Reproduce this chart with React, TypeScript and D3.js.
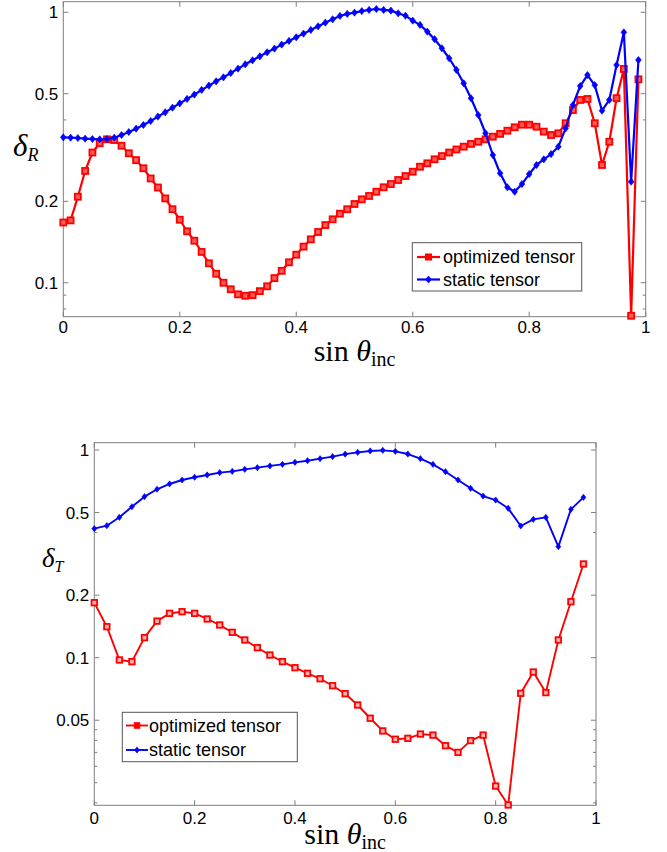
import React from 'react';
import * as d3 from 'd3';

// ---------- data ----------
const xTicks = [0, 0.2, 0.4, 0.6, 0.8, 1];
const xTickLabels = ['0', '0.2', '0.4', '0.6', '0.8', '1'];

const topYTicks = [1, 0.5, 0.2, 0.1];
const topYTickLabels = ['1', '0.5', '0.2', '0.1'];
const topYMinor = [0.4, 0.09, 0.08];

const botYTicks = [1, 0.5, 0.2, 0.1, 0.05];
const botYTickLabels = ['1', '0.5', '0.2', '0.1', '0.05'];
const botYMinor = [0.4, 0.045, 0.04, 0.035, 0.03, 0.025, 0.02];

const topStep = 0.0125;
const botStep = 0.025;

const topOptimized = [
  0.167, 0.170, 0.208, 0.259, 0.303, 0.328, 0.339, 0.337, 0.321, 0.301,
  0.284, 0.265, 0.243, 0.225, 0.205, 0.187, 0.171, 0.155, 0.143, 0.130,
  0.118, 0.108, 0.100, 0.0946, 0.0906, 0.0895, 0.090, 0.0931, 0.097, 0.104,
  0.1107, 0.119, 0.127, 0.136, 0.1447, 0.154, 0.1634, 0.1716, 0.1800, 0.187,
  0.1955, 0.2034, 0.2093, 0.217, 0.2254, 0.2317, 0.2398, 0.248, 0.2574, 0.2685,
  0.2764, 0.286, 0.294, 0.303, 0.311, 0.3185, 0.326, 0.332, 0.339, 0.3467,
  0.355, 0.3648, 0.3756, 0.384, 0.384, 0.3775, 0.362, 0.3517, 0.3568, 0.3887,
  0.435, 0.474, 0.478, 0.3887, 0.2725, 0.332, 0.481, 0.617, 0.0755, 0.565,
];

const topStatic = [
  0.3448, 0.3438, 0.3428, 0.3409, 0.3399, 0.3389, 0.3399, 0.3438, 0.3517, 0.3608,
  0.3713, 0.3830, 0.3963, 0.4113, 0.4267, 0.4440, 0.4606, 0.4780, 0.4960, 0.5161,
  0.5355, 0.5556, 0.5745, 0.5963, 0.6187, 0.6419, 0.6643, 0.6873, 0.7111, 0.7338,
  0.7592, 0.7834, 0.8081, 0.8337, 0.8602, 0.8874, 0.9155, 0.9419, 0.969, 0.986,
  0.997, 1.01, 1.02, 1.028, 1.02, 1.014, 0.991, 0.971, 0.931, 0.898,
  0.848, 0.795, 0.736, 0.676, 0.612, 0.546, 0.481, 0.417, 0.357, 0.2967,
  0.254, 0.2254, 0.217, 0.2317, 0.2523, 0.2725, 0.286, 0.299, 0.3185, 0.3724,
  0.454, 0.5336, 0.586, 0.538, 0.4326, 0.474, 0.638, 0.843, 0.2363, 0.666,
];

const botOptimized = [
  0.184, 0.141, 0.0975, 0.0957, 0.1249, 0.150, 0.1635, 0.1665, 0.1635, 0.1536,
  0.1437, 0.1325, 0.1217, 0.1117, 0.1030, 0.0957, 0.0895, 0.0841, 0.0792, 0.0733,
  0.0671, 0.0592, 0.0511, 0.0444, 0.0405, 0.0409, 0.0429, 0.0424, 0.0377, 0.0350,
  0.0399, 0.0424, 0.0241, 0.01954, 0.0674, 0.0853, 0.0679, 0.1217, 0.186, 0.2826,
];

const botStatic = [
  0.418, 0.432, 0.474, 0.533, 0.596, 0.647, 0.686, 0.717, 0.739, 0.758,
  0.778, 0.789, 0.807, 0.822, 0.838, 0.853, 0.872, 0.888, 0.908, 0.929,
  0.955, 0.974, 0.989, 0.996, 0.985, 0.956, 0.908, 0.853, 0.786, 0.717,
  0.654, 0.600, 0.574, 0.524, 0.4305, 0.4635, 0.474, 0.3424, 0.518, 0.5915,
];

const legendLabels = ['optimized tensor', 'static tensor'];
const RED = '#ff0000';
const BLUE = '#0000ff';
const AXIS = '#7f7f7f';

type Cfg = {
  x0: number; x1: number; yTop: number; yBot: number;
  yMin: number; yMax: number;
  yTicks: number[]; yTickLabels: string[]; yMinor: number[];
  red: number[]; blue: number[]; step: number;
  lineW: number; sq: number; dia: number; sqFill: string;
  legend: { x: number; y: number; w: number; h: number; row1: number; row2: number; l0: number; l1: number; tx: number };
  xLabelY: number; tickLabelY: number;
  ylab: { x: number; y: number; size: number; sub: string; subSize: number };
};

function Panel({ c }: { c: Cfg }) {
  const x = d3.scaleLinear().domain([0, 1]).range([c.x0, c.x1]);
  const y = d3.scaleLog().domain([c.yMin, c.yMax]).range([c.yBot, c.yTop]);
  const pts = (arr: number[]) => arr.map((v, i) => [x(i * c.step), y(v)] as [number, number]);
  const line = d3.line();
  const redPts = pts(c.red);
  const bluePts = pts(c.blue);
  const s = c.sq;
  const d = c.dia;
  const diamond = (px: number, py: number) => `M${px},${py - d}L${px + d * 0.8},${py}L${px},${py + d}L${px - d * 0.8},${py}Z`;
  const tk = 5;
  const mk = 3;
  const L = c.legend;
  return (
    <g>
      <rect x={c.x0} y={c.yTop} width={c.x1 - c.x0} height={c.yBot - c.yTop} fill="#fff" stroke={AXIS} strokeWidth={1} />
      {xTicks.map((t, i) => (
        <g key={'xt' + i}>
          <line x1={x(t)} x2={x(t)} y1={c.yBot} y2={c.yBot - tk} stroke={AXIS} />
          <line x1={x(t)} x2={x(t)} y1={c.yTop} y2={c.yTop + tk} stroke={AXIS} />
          <text x={x(t)} y={c.tickLabelY} textAnchor="middle" fontFamily="Liberation Sans, Arial, sans-serif" fontSize={17} fill="#000">{xTickLabels[i]}</text>
        </g>
      ))}
      {c.yTicks.map((t, i) => (
        <g key={'yt' + i}>
          <line x1={c.x0} x2={c.x0 + tk} y1={y(t)} y2={y(t)} stroke={AXIS} />
          <line x1={c.x1} x2={c.x1 - tk} y1={y(t)} y2={y(t)} stroke={AXIS} />
          <text x={c.x0 - 5} y={y(t) + 6} textAnchor="end" fontFamily="Liberation Sans, Arial, sans-serif" fontSize={17} fill="#000">{c.yTickLabels[i]}</text>
        </g>
      ))}
      {c.yMinor.map((t, i) => (
        <g key={'ym' + i}>
          <line x1={c.x0} x2={c.x0 + mk} y1={y(t)} y2={y(t)} stroke={AXIS} />
          <line x1={c.x1} x2={c.x1 - mk} y1={y(t)} y2={y(t)} stroke={AXIS} />
        </g>
      ))}
      <path d={line(redPts) || ''} fill="none" stroke={RED} strokeWidth={c.lineW} strokeLinejoin="round" />
      {redPts.map(([px, py], i) => (
        <rect key={'r' + i} x={px - s / 2} y={py - s / 2} width={s} height={s} fill={c.sqFill} stroke={RED} strokeWidth={1.8} />
      ))}
      <path d={line(bluePts) || ''} fill="none" stroke={BLUE} strokeWidth={c.lineW} strokeLinejoin="round" />
      {bluePts.map(([px, py], i) => (
        <path key={'b' + i} d={diamond(px, py)} fill={BLUE} stroke={BLUE} strokeWidth={0.6} />
      ))}
      <rect x={L.x} y={L.y} width={L.w} height={L.h} fill="#fff" stroke="#555" strokeWidth={1} />
      <line x1={L.l0} x2={L.l1} y1={L.row1} y2={L.row1} stroke={RED} strokeWidth={c.lineW} />
      <rect x={(L.l0 + L.l1) / 2 - s / 2} y={L.row1 - s / 2} width={s} height={s} fill={RED} stroke={RED} strokeWidth={1} />
      <text x={L.tx} y={L.row1 + 6} fontFamily="Liberation Sans, Arial, sans-serif" fontSize={18} fill="#000">{legendLabels[0]}</text>
      <line x1={L.l0} x2={L.l1} y1={L.row2} y2={L.row2} stroke={BLUE} strokeWidth={c.lineW} />
      <path d={diamond((L.l0 + L.l1) / 2, L.row2)} fill={BLUE} stroke={BLUE} strokeWidth={0.6} />
      <text x={L.tx} y={L.row2 + 6} fontFamily="Liberation Sans, Arial, sans-serif" fontSize={18} fill="#000">{legendLabels[1]}</text>
      <text x={(c.x0 + c.x1) / 2} y={c.xLabelY} textAnchor="middle" fontFamily="Liberation Serif, Times New Roman, serif" fontSize={30} fill="#000">
        sin <tspan fontStyle="italic">θ</tspan><tspan fontSize={20} dy={5}>inc</tspan>
      </text>
      <text x={c.ylab.x} y={c.ylab.y} fontFamily="Liberation Serif, Times New Roman, serif" fontStyle="italic" fontSize={c.ylab.size} fill="#000">
        δ<tspan fontSize={c.ylab.subSize} dy={5}>{c.ylab.sub}</tspan>
      </text>
    </g>
  );
}

const topCfg: Cfg = {
  x0: 63.3, x1: 645.7, yTop: 1.7, yBot: 316.7, yMin: 0.0749, yMax: 1.094,
  yTicks: topYTicks, yTickLabels: topYTickLabels, yMinor: topYMinor,
  red: topOptimized, blue: topStatic, step: topStep,
  lineW: 2.2, sq: 6, dia: 3.6, sqFill: '#ff5a5a',
  legend: { x: 412.3, y: 242.7, w: 169.4, h: 48.3, row1: 257, row2: 279.5, l0: 417, l1: 440, tx: 443 },
  tickLabelY: 333, xLabelY: 361,
  ylab: { x: 13, y: 156, size: 31, sub: 'R', subSize: 18 },
};

const botCfg: Cfg = {
  x0: 94.3, x1: 596, yTop: 442.7, yBot: 805.3, yMin: 0.01947, yMax: 1.084,
  yTicks: botYTicks, yTickLabels: botYTickLabels, yMinor: botYMinor,
  red: botOptimized, blue: botStatic, step: botStep,
  lineW: 1.9, sq: 5.5, dia: 3.1, sqFill: '#ffb4b4',
  legend: { x: 122.3, y: 712.3, w: 175, h: 49.4, row1: 725.5, row2: 750, l0: 126, l1: 148, tx: 149 },
  tickLabelY: 824, xLabelY: 844,
  ylab: { x: 42, y: 567, size: 27, sub: 'T', subSize: 16 },
};

export default function App() {
  return (
    <svg width={667} height={852} style={{ position: 'absolute', left: 0, top: 0, background: '#fff' }}>
      <rect x={0} y={0} width={667} height={852} fill="#fff" />
      <Panel c={topCfg} />
      <Panel c={botCfg} />
    </svg>
  );
}
